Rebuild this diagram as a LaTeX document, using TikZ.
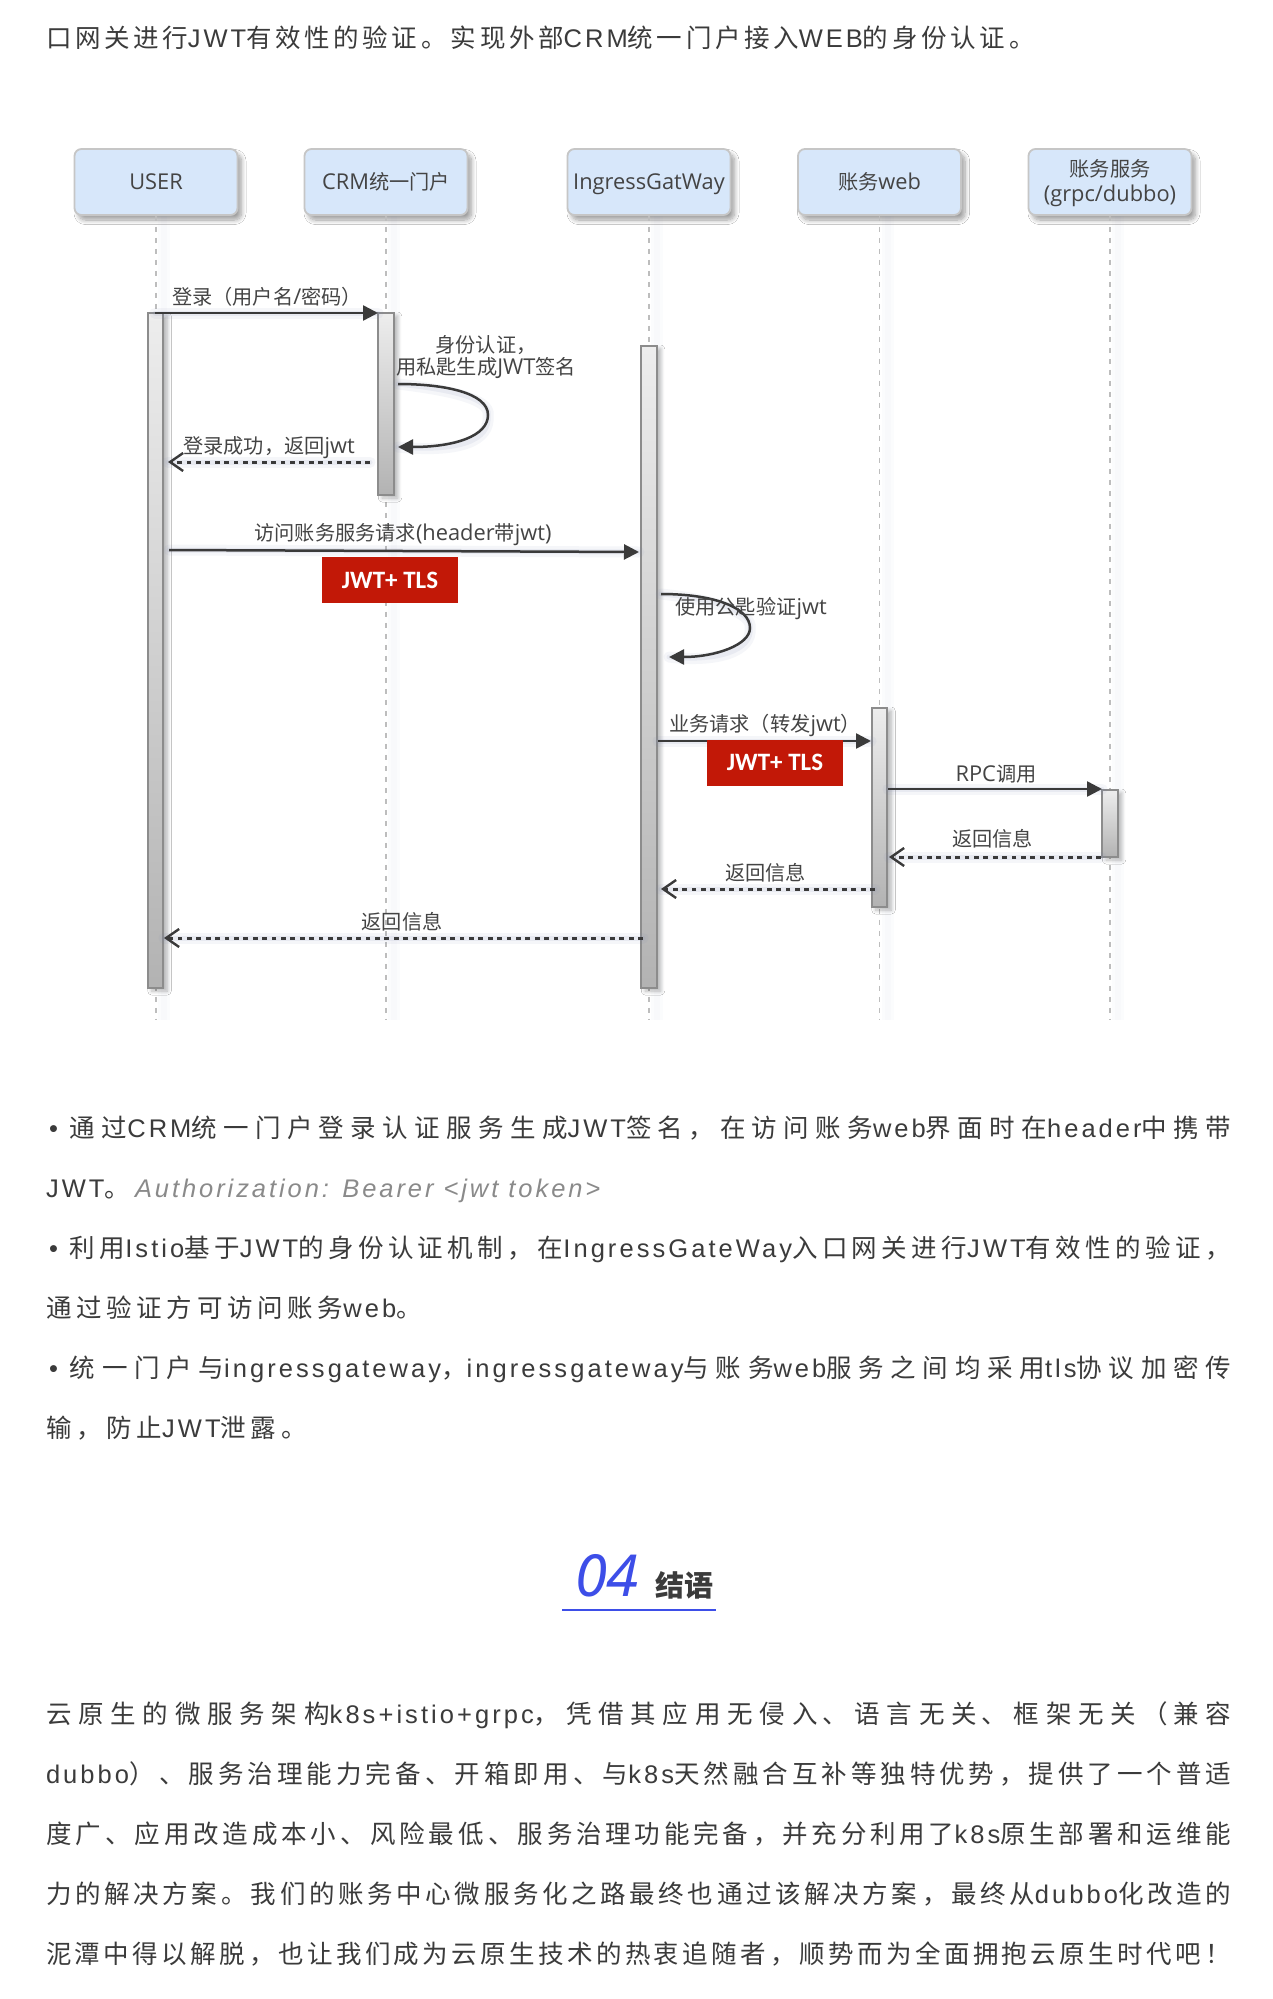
\documentclass[tikz,border=0pt]{standalone}
\usepackage{fontspec}
\usetikzlibrary{arrows.meta,shadows.blur}
\setmainfont{Noto Sans}
\newfontfamily\bodycjkf[LetterSpace=18.5]{Noto Sans CJK SC}
\newfontfamily\bodylatf[LetterSpace=12]{Liberation Sans}
\newfontfamily\bodyitf[LetterSpace=11.5]{Liberation Sans}
\newfontfamily\diacjkf{Noto Sans CJK SC}
\newfontfamily\dialatf[Scale=1.08]{Open Sans}
\newfontfamily\tagf{Carlito}
\newfontfamily\headcjkf{Noto Sans CJK SC}
\newfontfamily\headlatf{Noto Sans}
\definecolor{txt}{HTML}{3B3B3B}
\definecolor{itgray}{HTML}{8A8A8A}
\definecolor{blueh}{HTML}{3D4EE8}
\definecolor{boxfill}{HTML}{D7E7FA}
\definecolor{boxline}{HTML}{C6C6C6}
\definecolor{barline}{HTML}{8C8C8C}
\definecolor{ink}{HTML}{3A3A3A}
\definecolor{lifec}{HTML}{BDBDBD}
\definecolor{shc}{HTML}{7C86B4}
\definecolor{tagred}{HTML}{C21807}
% automatic CJK / Latin font switch
\let\cjkfnt\relax
\let\latfnt\relax
\newXeTeXintercharclass\mycjkclass
\newcount\mycnt
\def\setcls#1#2{\mycnt=#1\relax
  \loop\XeTeXcharclass\mycnt=\mycjkclass\ifnum\mycnt<#2\relax\advance\mycnt by 1\repeat}
\setcls{"3000}{"303F}\setcls{"4E00}{"9FFF}\setcls{"FF00}{"FFEF}
\XeTeXinterchartoks 0 \mycjkclass={\cjkfnt}
\XeTeXinterchartoks \mycjkclass 0={\latfnt}
\XeTeXinterchartoks 4095 \mycjkclass={\cjkfnt}
\XeTeXinterchartoks 4095 0={\latfnt}
\XeTeXinterchartokenstate=1
\XeTeXlinebreaklocale "zh"
\XeTeXlinebreakskip=0pt plus 3pt minus .6pt
\def\nosw{\XeTeXinterchartokenstate=0\relax}
\def\bodytext{\let\cjkfnt\bodycjkf\let\latfnt\bodylatf\fontsize{25.5}{30}\selectfont\color{txt}}
\def\diatext{\let\cjkfnt\diacjkf\let\latfnt\dialatf\fontsize{20.2}{21.5}\selectfont\color{ink!95}}
\def\tagtext{\nosw\fontsize{25}{25}\tagf\bfseries}
\newcommand\dt[1]{\raisebox{0pt}[14pt][0pt]{\diatext #1}}
\newcommand\bul{\hspace*{3pt}•\hspace*{12pt}}
\newcommand\fullline[3]{\node[bline] (#1) at (46,#2+9.5) {\vbox{\hsize=1185pt\parindent=0pt\leftskip=0pt\rightskip=0pt\parfillskip=0pt\tolerance=9999\hbadness=10000\bodytext\noindent #3\par}};}
\newcommand\freeline[3]{\node[bline] (#1) at (46,#2+9.5) {\bodytext #3};}
\newcommand\sline[1]{\draw[shc,opacity=.07,line width=11pt,line cap=round,shift={(3,6)}] #1;\draw[shc,opacity=.10,line width=5pt,line cap=round,shift={(3,5)}] #1;}
\tikzset{
  x=1pt,y=-1pt,
  bline/.style={anchor=base west,inner sep=0pt,outer sep=0pt},
  actor/.style={draw=boxline,line width=1.8pt,fill=boxfill,rounded corners=7pt,minimum width=163pt,minimum height=66pt,inner sep=0pt,align=center,
    blur shadow={shadow xshift=4pt,shadow yshift=-5pt,shadow blur steps=10,shadow blur radius=4.5pt,shadow opacity=38}},
  bar/.style={draw=barline,line width=1.6pt,top color=white!93!black,bottom color=black!30,minimum width=15.5pt,inner sep=0pt,
    blur shadow={shadow xshift=4pt,shadow yshift=-3pt,shadow blur steps=8,shadow blur radius=4pt,shadow opacity=28}},
  life/.style={draw=lifec,line width=1.5pt,dash pattern=on 5pt off 6pt},
  lifesh/.style={draw=shc,opacity=.025,line width=#1},
  msg/.style={draw=ink,line width=2.5pt,-{Triangle[length=15pt,width=15pt,fill=ink]}},
  ret/.style={draw=ink,line width=3pt,dash pattern=on 4.8pt off 4.6pt,-{Straight Barb[length=13pt,width=18pt,line width=2.4pt,fill=none]}},
  lbl/.style={inner sep=0pt,align=center},
  tag/.style={fill=tagred,text=white,inner sep=0pt,minimum width=136pt,minimum height=46pt},
}
\begin{document}
\begin{tikzpicture}
\useasboundingbox (0,0) rectangle (1272,1999);
\fill[white] (0,0) rectangle (1272,1999);

\node[bline] (t0) at (46,47.5) {\vbox{\hsize=989pt\parindent=0pt\leftskip=0pt\rightskip=0pt\parfillskip=0pt\tolerance=9999\hbadness=10000\XeTeXlinebreakskip=0pt plus 2pt minus 1.6pt\bodytext\noindent 口网关进行JWT有效性的验证。实现外部CRM统一门户接入WEB的身份认证。\par}};

% actors
\node[actor] (a1) at (156,182) {\dt{USER}};
\node[actor] (a2) at (386,182) {\dt{CRM统一门户}};
\node[actor] (a3) at (649,182) {\dt{IngressGatWay}};
\node[actor] (a4) at (879.5,182) {\dt{账务web}};
\node[actor] (a5) at (1110,182) {\dt{账务服务}\\[10.5pt]\dt{(grpc/dubbo)}};

% lifeline ends
\coordinate (e1) at (a1.south |- 0,1020);
\coordinate (e2) at (a2.south |- 0,1020);
\coordinate (e3) at (a3.south |- 0,1020);
\coordinate (e4) at (a4.south |- 0,1020);
\coordinate (e5) at (a5.south |- 0,1020);
\foreach \i in {1,...,5}{
  \draw[lifesh=12pt] ([xshift=8pt]a\i.south) -- ([xshift=8pt]e\i);
  \draw[lifesh=6pt] ([xshift=8pt]a\i.south) -- ([xshift=8pt]e\i);
  \draw[life] (a\i.south) -- (e\i);
}

% activation bars
\node[bar,minimum height=675pt] (b1) at (155.5,650.5) {};
\node[bar,minimum height=182pt] (b2) at (386,404) {};
\node[bar,minimum height=642pt] (b3) at (649,667) {};
\node[bar,minimum height=199pt] (b4) at (879.5,807.5) {};
\node[bar,minimum height=67pt] (b5) at (1110,823.5) {};

% connector anchors
\coordinate (m1s) at (155,313);   \coordinate (m1e) at (378,313);
\coordinate (s1s) at (398,384);   \coordinate (s1e) at (398,447);
\coordinate (s1m) at (488,415);
\coordinate (r1s) at (370,462);   \coordinate (r1e) at (168,462);
\coordinate (m2s) at (169,550);   \coordinate (m2e) at (639,552);
\coordinate (s2s) at (661,594);   \coordinate (s2e) at (669,657);
\coordinate (s2m) at (750,628);
\coordinate (m3s) at (658,741);   \coordinate (m3e) at (871,741);
\coordinate (m4s) at (888,789);   \coordinate (m4e) at (1102,789);
\coordinate (r2s) at (1101,857);  \coordinate (r2e) at (889,857);
\coordinate (r3s) at (875,889);   \coordinate (r3e) at (661,889);
\coordinate (r4s) at (643,938);   \coordinate (r4e) at (164,938);

% connector shadows
\sline{(m1s) -- (m1e)}
\sline{(r1s) -- (r1e)}
\sline{(m2s) -- (m2e)}
\sline{(m3s) -- (m3e)}
\sline{(m4s) -- (m4e)}
\sline{(r2s) -- (r2e)}
\sline{(r3s) -- (r3e)}
\sline{(r4s) -- (r4e)}
\sline{(s1s) .. controls (445,384) and (488,393) .. (s1m) .. controls (488,436) and (455,447) .. (s1e)}
\sline{(s2s) .. controls (715,594) and (750,608) .. (s2m) .. controls (750,645) and (715,657) .. (s2e)}

% connectors
\draw[msg] (m1s) -- (m1e);
\draw[msg] (s1s) .. controls (445,384) and (488,393) .. (s1m) .. controls (488,436) and (455,447) .. (s1e);
\draw[ret] (r1s) -- (r1e);
\draw[msg] (m2s) -- (m2e);
\draw[msg] (s2s) .. controls (715,594) and (750,608) .. (s2m) .. controls (750,645) and (715,657) .. (s2e);
\draw[msg] (m3s) -- (m3e);
\draw[msg] (m4s) -- (m4e);
\draw[ret] (r2s) -- (r2e);
\draw[ret] (r3s) -- (r3e);
\draw[ret] (r4s) -- (r4e);

% labels
\node[lbl] (l1) at (267,297) {\dt{登录（用户名/密码）}};
\node[lbl] (l2) at (486,356.5) {\dt{身份认证，}\\[7pt]\dt{用私匙生成JWT签名}};
\node[lbl] (l3) at (269,446) {\dt{登录成功，返回jwt}};
\node[lbl] (l4) at (403,533) {\dt{访问账务服务请求(header带jwt)}};
\node[lbl] (l5) at (751,607) {\dt{使用公匙验证jwt}};
\node[lbl] (l6) at (765,724) {\dt{业务请求（转发jwt）}};
\node[lbl] (l7) at (996,774) {\dt{RPC调用}};
\node[lbl] (l8) at (992.5,839) {\dt{返回信息}};
\node[lbl] (l9) at (765.5,873) {\dt{返回信息}};
\node[lbl] (l10) at (402,922) {\dt{返回信息}};
\node[tag] (k1) at (390,580) {\tagtext JWT+ TLS};
\node[tag] (k2) at (775,762.5) {\tagtext JWT+ TLS};

% bullet text
\fullline{t1}{1128}{\bul 通过CRM统一门户登录认证服务生成JWT签名，在访问账务web界面时在header中携带}
\freeline{t2}{1188}{JWT。}
\node[bline] (t2i) at (135,1197.5) {\nosw\fontsize{25.5}{30}\bodyitf\itshape\color{itgray}Authorization: Bearer <jwt token>};
\fullline{t3}{1248}{\bul 利用Istio基于JWT的身份认证机制，在IngressGateWay入口网关进行JWT有效性的验证，}
\freeline{t4}{1308}{通过验证方可访问账务web。}
\fullline{t5}{1368}{\bul 统一门户与ingressgateway，ingressgateway与账务web服务之间均采用tls协议加密传}
\freeline{t6}{1428}{输，防止JWT泄露。}

% heading
\node[bline] (h1) at (575,1596) {\nosw\fontsize{58}{58}\headlatf\itshape\color{blueh}04};
\node[bline] (h2) at (655,1596) {\nosw\fontsize{29}{29}\headcjkf\bfseries\color{txt}结语};
\coordinate (u1) at (562,1610); \coordinate (u2) at (716,1610);
\draw[blueh,line width=2.2pt] (u1) -- (u2);

% closing paragraph
\fullline{p1}{1714}{云原生的微服务架构k8s+istio+grpc，凭借其应用无侵入、语言无关、框架无关（兼容}
\fullline{p2}{1774}{dubbo）、服务治理能力完备、开箱即用、与k8s天然融合互补等独特优势，提供了一个普适}
\fullline{p3}{1834}{度广、应用改造成本小、风险最低、服务治理功能完备，并充分利用了k8s原生部署和运维能}
\fullline{p4}{1894}{力的解决方案。我们的账务中心微服务化之路最终也通过该解决方案，最终从dubbo化改造的}
\fullline{p5}{1954}{泥潭中得以解脱，也让我们成为云原生技术的热衷追随者，顺势而为全面拥抱云原生时代吧！}
\end{tikzpicture}
\end{document}
